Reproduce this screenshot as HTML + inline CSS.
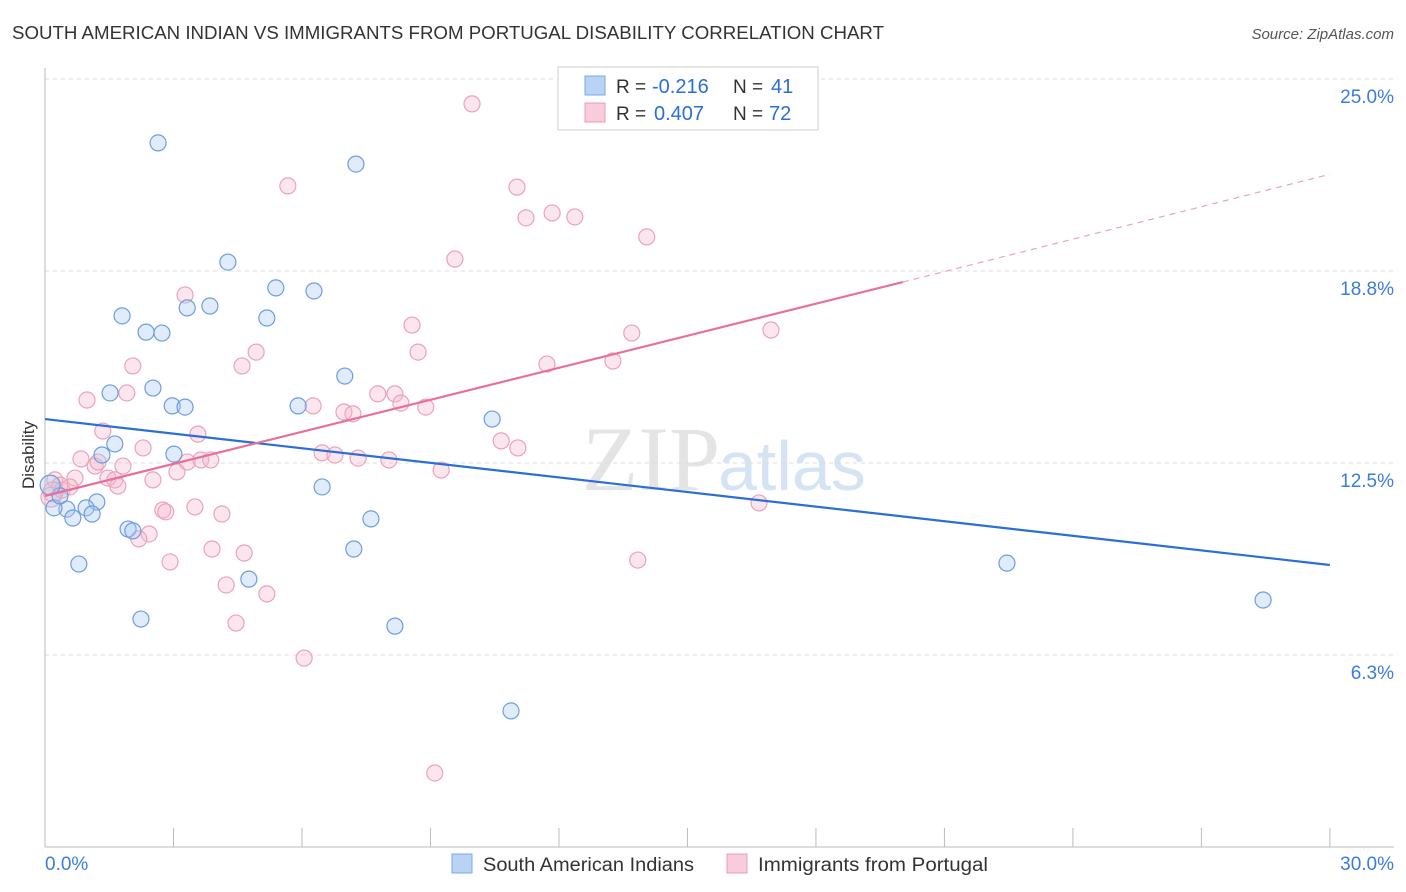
<!DOCTYPE html>
<html><head><meta charset="utf-8">
<style>
body{margin:0;background:#fff;font-family:"Liberation Sans",sans-serif;}
svg{display:block}
</style></head>
<body>
<svg id="chart" width="1406" height="892">
<text x="12" y="39" font-size="18" fill="#333" textLength="872" lengthAdjust="spacingAndGlyphs">SOUTH AMERICAN INDIAN VS IMMIGRANTS FROM PORTUGAL DISABILITY CORRELATION CHART</text>
<text x="1394" y="39" font-size="15" fill="#555" text-anchor="end" font-style="italic">Source: ZipAtlas.com</text>
<text x="720" y="490" font-size="92" fill="#e4e4e4" text-anchor="end" font-family="Liberation Serif">ZIP</text>
<text x="718" y="490" font-size="70" fill="#d5e3f3">atlas</text>
<g id="grid"></g><g id="axes"></g><g id="pts"></g><g id="lines"></g>
<text x="34" y="455" font-size="17" fill="#333" transform="rotate(-90 34 455)" text-anchor="middle">Disability</text>
<g>
<rect x="558" y="67" width="260" height="63" fill="#fff" stroke="#ccc"/>
<rect x="585" y="76" width="20" height="19" fill="#b9d3f5" stroke="#7aa7e3"/>
<text x="616" y="93" font-size="19" fill="#333">R =</text>
<text x="652" y="93" font-size="20" fill="#2a6fd6">-0.216</text>
<text x="733" y="93" font-size="19" fill="#333">N =</text>
<text x="771" y="93" font-size="20" fill="#2a6fd6">41</text>
<rect x="585" y="103" width="20" height="19" fill="#f9ccd9" stroke="#eb9ab3"/>
<text x="616" y="120" font-size="19" fill="#333">R =</text>
<text x="654" y="120" font-size="20" fill="#2a6fd6">0.407</text>
<text x="733" y="120" font-size="19" fill="#333">N =</text>
<text x="769" y="120" font-size="20" fill="#2a6fd6">72</text>
</g>
<g>
<rect x="452" y="854" width="20" height="19" fill="#b9d3f5" stroke="#7aa7e3"/>
<text x="483" y="871" font-size="19" fill="#333" textLength="211" lengthAdjust="spacingAndGlyphs">South American Indians</text>
<rect x="727" y="854" width="20" height="19" fill="#f9ccd9" stroke="#eb9ab3"/>
<text x="758" y="871" font-size="19" fill="#333" textLength="230" lengthAdjust="spacingAndGlyphs">Immigrants from Portugal</text>
</g>
</svg>
<script>
const yTicks=[6.25,12.5,18.75,25];
const yTickLabels=["6.3%","12.5%","18.8%","25.0%"];
const xTickLabels=["0.0%","30.0%"];
const blueX=[2.64,7.26,4.27,5.39,6.28,1.80,2.36,2.73,3.32,3.85,5.18,1.52,2.52,2.97,3.27,5.91,7.00,10.44,1.63,1.33,3.01,6.47,1.21,0.96,0.51,0.21,0.65,1.10,1.94,2.05,0.35,0.79,4.76,7.21,7.61,2.24,8.17,10.88,22.46,28.44,0.12];
const blueY=[22.92,22.23,19.04,18.20,18.10,17.29,16.76,16.73,17.55,17.61,17.22,14.78,14.94,14.36,14.32,14.36,15.33,13.93,13.12,12.76,12.79,11.72,11.23,11.04,11.00,11.04,10.71,10.84,10.35,10.29,11.43,9.21,8.72,9.70,10.68,7.42,7.19,4.43,9.24,8.04,11.78];
const pinkX=[9.97,5.67,11.02,11.23,11.84,12.37,14.05,9.57,3.27,8.57,13.70,16.95,4.93,8.71,4.60,2.05,11.72,13.26,0.98,1.91,6.26,7.77,8.17,6.98,7.19,8.31,8.89,1.35,3.57,10.65,11.04,2.29,6.47,6.77,7.31,8.03,3.32,3.64,3.87,0.84,1.17,1.82,3.08,9.25,0.70,1.47,1.63,1.70,2.52,0.23,0.40,0.58,0.14,2.75,2.82,3.50,4.13,2.43,2.19,16.67,3.90,4.65,2.92,13.84,4.23,5.18,4.46,6.05,9.10,0.35,1.24,0.19];
const pinkY=[24.19,21.52,21.48,20.48,20.64,20.51,19.86,19.14,17.97,16.99,16.73,16.83,16.11,16.11,15.66,15.66,15.72,15.82,14.55,14.78,14.36,14.75,14.75,14.16,14.10,14.45,14.32,13.54,13.44,13.22,12.99,12.99,12.83,12.76,12.66,12.60,12.53,12.60,12.60,12.63,12.40,12.40,12.21,12.27,12.01,12.01,11.95,11.75,11.95,11.95,11.62,11.72,11.39,10.97,10.91,11.07,10.84,10.19,10.03,11.20,9.70,9.57,9.28,9.34,8.53,8.24,7.29,6.15,2.41,11.78,12.53,11.56];
const blueFit=[13.93,9.18];
const pinkFit=[11.43,18.39,21.9];
const pinkSolidEnd=20.03;
const X=v=>45+v*42.83, Y=v=>847-v*30.72;
const NS="http://www.w3.org/2000/svg";
function mk(tag,attrs,parent){const e=document.createElementNS(NS,tag);for(const k in attrs)e.setAttribute(k,attrs[k]);parent.appendChild(e);return e;}
const grid=document.getElementById('grid'),axes=document.getElementById('axes'),pts=document.getElementById('pts'),lines=document.getElementById('lines');
yTicks.forEach((t,i)=>{
 const g=mk('line',{x1:45,x2:1394,y1:Y(t),y2:Y(t),stroke:'#ddd','stroke-dasharray':'4,4'},grid);
 
 
 const tx=mk('text',{x:1394,y:Y(t)+24,'font-size':19,fill:'#3b7dd8','text-anchor':'end'},axes);
 tx.textContent=yTickLabels[i];
 
 
});
const ax=mk('line',{x1:45,x2:45,y1:68,y2:847,stroke:'#bbb'},axes);


const bx=mk('line',{x1:45,x2:1394,y1:847,y2:847,stroke:'#bbb'},axes);


for(let i=0;i<=10;i++){const t=mk('line',{x1:X(i*3),x2:X(i*3),y1:828,y2:847,stroke:'#bbb'},axes);
 
 }
[[0,'start',45],[30,'end',1394]].forEach((d,i)=>{const t=mk('text',{x:d[2],y:870,'font-size':19,fill:'#3b7dd8','text-anchor':d[1]},axes);t.textContent=xTickLabels[i];
 
 });
function dots(xs,ys,fill,stroke,name){xs.forEach((x,i)=>{const c=mk('circle',{cx:X(x),cy:Y(ys[i]),r:(x<0.2?10:8),fill:fill,stroke:stroke,'stroke-width':1.2},pts);
 
 });}
dots(pinkX,pinkY,'rgba(246,182,202,0.35)','#eba2ba','point-immigrants-portugal');
dots(blueX,blueY,'rgba(168,200,240,0.35)','#6d9de0','point-south-american-indians');
const bl=mk('line',{x1:X(0),y1:Y(blueFit[0]),x2:X(30),y2:Y(blueFit[1]),stroke:'#2a6fd6','stroke-width':2.2},lines);


const pl=mk('line',{x1:X(0),y1:Y(pinkFit[0]),x2:X(pinkSolidEnd),y2:Y(pinkFit[1]),stroke:'#e8719a','stroke-width':2.2},lines);


const pd=mk('line',{x1:X(pinkSolidEnd),y1:Y(pinkFit[1]),x2:X(30),y2:Y(pinkFit[2]),stroke:'#eba2ba','stroke-width':1.2,'stroke-dasharray':'6,5'},lines);


</script>
</body></html>
